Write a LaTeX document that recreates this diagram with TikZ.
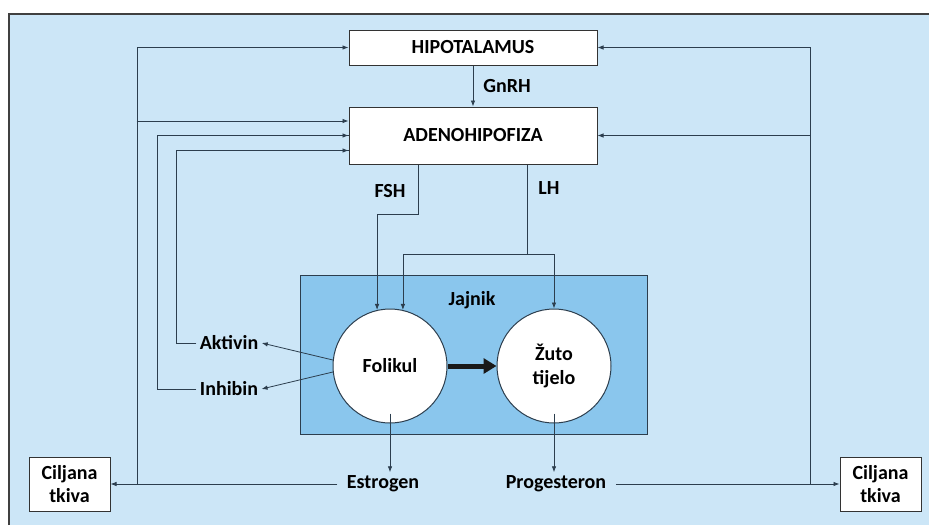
\documentclass[tikz,border=0pt]{standalone}
\usepackage{fontspec}
\setmainfont{Carlito}
\usetikzlibrary{arrows.meta}
\usetikzlibrary{calc}
\definecolor{bgblue}{RGB}{204,230,247}
\definecolor{ovblue}{RGB}{138,198,237}
\definecolor{linec}{RGB}{44,62,78}

\begin{document}
\begin{tikzpicture}[x=1pt,y=-1pt,
  font=\fontsize{20}{23.5}\selectfont\bfseries,
  block/.style={rectangle,draw=black!80,line width=1pt,fill=white,minimum width=248pt},
  tkbox/.style={rectangle,draw=black!80,line width=1pt,fill=white,minimum width=81pt,minimum height=54pt,align=center,inner sep=1pt},
  cell/.style={circle,draw=linec,line width=1pt,fill=white,minimum size=114pt,align=center,inner sep=0pt},
  arr/.style={draw=linec,line width=0.8pt,-{Latex[length=6pt,width=4.5pt]}},
  ln/.style={draw=linec,line width=0.8pt}]
\useasboundingbox (0,0) rectangle (929,525);
\fill[white] (0,0) rectangle (929,525);
\fill[bgblue] (9,14) rectangle (929,525);
\draw[line width=1.2pt,black!75] (9,525) -- (9,14) -- (929,14);
\node at (473,47.5) (hyp) [block,minimum height=35pt] {HIPOTALAMUS};
\node at (473,135.5) (adeno) [block,minimum height=57pt] {ADENOHIPOFIZA};
\node at (473.5,354.5) (ov) [rectangle,draw=linec,line width=1pt,fill=ovblue,minimum width=347pt,minimum height=159pt] {};
\node at (472,300) (ovl) {Jajnik};
\node at (390,366) (fol) [cell] {Folikul};
\node at (554,366) (zuto) [cell] {Žuto\\tijelo};
\node at (229,343) (akt) {Aktivin};
\node at (229,389) (inh) {Inhibin};
\node at (383,484) (est) {Estrogen};
\node at (556,484) (prog) {Progesteron};
\node at (69.5,484) (lt) [tkbox] {Ciljana\\tkiva};
\node at (880.5,484) (rt) [tkbox] {Ciljana\\tkiva};
\node at (507,86) (gnrh) {GnRH};
\node at (390,191) (fsh) {FSH};
\node at (549,188) (lh) {LH};
\coordinate (e1) at (137,484);
\coordinate (e2) at ($(adeno.west)+(-212,-14.5)$);
\coordinate (i1) at (157,389);
\coordinate (a1) at (176,343);
\coordinate (p1) at (810,484);
\draw [arr] (hyp) -- (adeno);
\draw [arr] ([xshift=-55pt]adeno.south) -- ++(0,50) -| (fol.103);
\draw [ln] ([xshift=54pt]adeno.south) -- ++(0,90) coordinate (lhj);
\draw [arr] (lhj) -| (fol.77);
\draw [arr] (lhj) -| (zuto.north);
\draw [-{Triangle[length=13pt,width=15pt]},line width=5pt,draw=black!90] (fol.east) -- (zuto.west);
\draw [arr] (fol.174) -- (akt.east);
\draw [arr] (fol.186) -- (inh.east);
\draw [ln] (akt.west) -| (a1) |- ($(adeno.west)+(0,15)$);
\draw [arr] (a1 |- adeno.west) ++(0,15) -- ($(adeno.west)+(0,15)$);
\draw [ln] (inh.west) -| (i1) |- (adeno.west);
\draw [arr] (i1 |- adeno.west) -- (adeno.west);
\draw [arr] ([yshift=10pt]fol.south) -- (fol.south |- est.north);
\draw [arr] ([yshift=10pt]zuto.south) -- (zuto.south |- prog.north);
\draw [arr,shorten <=6pt] (est.west) -- (lt.east);
\draw [arr,shorten <=6pt] (prog.east) -- (rt.west);
\draw [arr] (e1) |- (hyp.west);
\draw [arr] (e2) -- (e2 -| adeno.west);
\draw [arr] (p1) |- (hyp.east);
\draw [arr] (p1 |- adeno.east) -- (adeno.east);
\end{tikzpicture}
\end{document}
